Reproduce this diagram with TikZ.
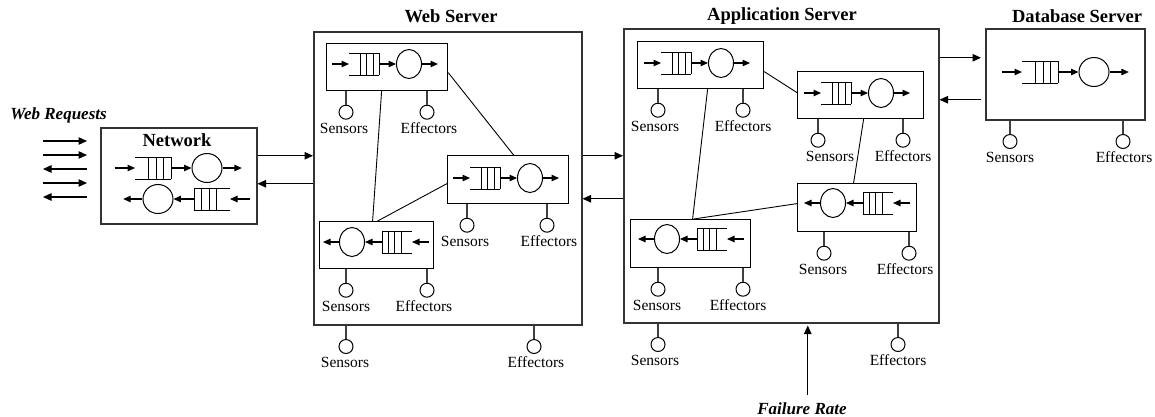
\documentclass[tikz,border=0pt]{standalone}
\usepackage{fontspec}
\setmainfont{Liberation Serif}
\usetikzlibrary{arrows.meta,calc,shapes.geometric}

\tikzset{
  server/.style={draw=black!80, line width=1.5pt, inner sep=0, anchor=north west},
  stbox/.style={draw, line width=1.2pt, inner sep=0, anchor=north west},
  qline/.style={line width=1pt},
  srvc/.style={draw, ellipse, line width=1pt, minimum height=29pt, inner sep=0},
  arr/.style={line width=1.2pt, -{Triangle[length=8.5pt,width=7.5pt]}},
  qarr/.style={line width=1.1pt, -{Triangle[length=7.5pt,width=6.5pt]}},
  conn/.style={line width=0.9pt},
  pinline/.style={draw=black!75, line width=1.4pt},
  pinc/.style={circle, draw, line width=1pt, minimum size=14pt, inner sep=0},
  pinlbl/.style={font=\fontsize{15.5}{17}\selectfont, inner sep=0, anchor=base},
  srvtitle/.style={font=\bfseries\fontsize{18.5}{20}\selectfont, inner sep=0, anchor=base},
  notelbl/.style={font=\bfseries\itshape\fontsize{17}{19}\selectfont, inner sep=0, anchor=base},
}

% #1 name, #2 x of queue open end, #3 row y, #4 direction (1 or -1), #5 horizontal scale
\newcommand\qstation[5]{%
  \begin{scope}[shift={(#2,#3)}, xscale=#4*#5]
    \coordinate (#1-in) at (-17,0);
    \coordinate (#1-qo) at (0,0);
    \coordinate (#1-qc) at (30,0);
    \draw[qline] (0,-11) -- (30,-11) (0,11) -- (30,11);
    \foreach \v in {11,17.5,24,30} \draw[qline] (\v,-11) -- (\v,11);
    \node[srvc, minimum width=25pt*#5] (#1-s) at (60,0) {};
    \coordinate (#1-out) at (89,0);
    \draw[qarr] (#1-in) -- (#1-qo);
    \draw[qarr] (#1-qc) -- (#1-s);
    \draw[qarr] (#1-s) -- (#1-out);
  \end{scope}
}

% #1 name, #2 box node, #3 pin x, #4 label x, #5 label
\newcommand\qpin[5]{%
  \coordinate (#1-x) at (#3,0);
  \coordinate (#1-a) at (#2.south -| #1-x);
  \node[pinc] (#1-c) at ([yshift=-21pt]#1-a) {};
  \draw[pinline] (#1-a) -- (#1-c);
  \coordinate (#1-lx) at (#4,0);
  \coordinate (#1-ly) at ([yshift=-21pt]#1-c.center);
  \node[pinlbl] (#1-l) at (#1-ly -| #1-lx) {#5};
}

\begin{document}
\begin{tikzpicture}[x=1pt, y=-1pt]
\useasboundingbox (0,0) rectangle (1155,416);

% server boxes
\node[server, minimum width=156pt, minimum height=96pt] (net) at (100,127) {};
\node[server, minimum width=268pt, minimum height=293pt] (web) at (313,31) {};
\node[server, minimum width=315pt, minimum height=294pt] (app) at (623,28) {};
\node[server, minimum width=159pt, minimum height=91pt] (db) at (985,28) {};

% titles and notes
\node[srvtitle] (nett) at (177,146) {Network};
\node[srvtitle] (webt) at (451,22) {Web Server};
\node[srvtitle] (appt) at (782,20.5) {Application Server};
\node[srvtitle] (dbt) at (1077,22) {Database Server};
\node[notelbl] (wrt) at (58.5,119.5) {Web Requests};
\node[notelbl] (fr) at (802,414) {Failure Rate};

% station boxes
\node[stbox, minimum width=121pt, minimum height=47pt] (ws1) at (326,43) {};
\node[stbox, minimum width=121pt, minimum height=48pt] (ws2) at (447,155) {};
\node[stbox, minimum width=114pt, minimum height=47pt] (ws3) at (319,221) {};
\node[stbox, minimum width=126pt, minimum height=47pt] (as1) at (637,41) {};
\node[stbox, minimum width=126pt, minimum height=47pt] (as2) at (797,71) {};
\node[stbox, minimum width=119pt, minimum height=48pt] (as3) at (797,183) {};
\node[stbox, minimum width=120pt, minimum height=48pt] (as4) at (630,219) {};

% queues and servers
\qstation{netq1}{135}{168}{1}{1.2}
\qstation{netq2}{230}{199}{-1}{1.2}
\qstation{ws1q}{349}{64}{1}{1}
\qstation{ws2q}{470}{178}{1}{1}
\qstation{ws3q}{412}{242}{-1}{1}
\qstation{as1q}{661}{63}{1}{1}
\qstation{as2q}{821}{93}{1}{1}
\qstation{as3q}{893}{203}{-1}{1}
\qstation{as4q}{727}{239}{-1}{1}
\qstation{dbq}{1022}{72}{1}{1.2}

% links between stations
\draw[conn] ([xshift=-5.5pt]ws1.south) -- ([xshift=-4pt]ws3.north);
\draw[conn] ([yshift=-5.5pt]ws1.east) -- ([xshift=5.5pt]ws2.north);
\draw[conn] ([yshift=-4pt]ws2.west) -- ([xshift=1pt]ws3.north);
\draw[conn] ([yshift=-6.5pt]as1.east) -- ([yshift=2.5pt]as2.west);
\draw[conn] ([xshift=7pt]as1.south) -- ([xshift=2pt]as4.north);
\draw[conn] ([xshift=3pt]as2.south) -- ([xshift=-3.5pt]as3.north);
\draw[conn] ([yshift=4pt]as3.west) -- ([xshift=3pt]as4.north);

% arrows between servers
\coordinate (nw1) at ([yshift=20pt]net.east);
\draw[arr] (nw1) -- (nw1 -| web.west);
\coordinate (nw2) at ([yshift=-8pt]net.east);
\draw[arr] (nw2 -| web.west) -- (nw2);
\coordinate (wa1) at ([yshift=22.5pt]web.east);
\draw[arr] (wa1) -- (wa1 -| app.west);
\coordinate (wa2) at ([yshift=-20.5pt]web.east);
\draw[arr] (wa2 -| app.west) -- (wa2);
\coordinate (ad1) at ([yshift=16.5pt]db.west);
\draw[arr, shorten >=4pt] (ad1 -| app.east) -- (ad1);
\coordinate (ad2) at ([yshift=-25.5pt]db.west);
\draw[arr, shorten <=4pt] (ad2) -- (ad2 -| app.east);

% failure rate arrow
\coordinate (frt) at ([xshift=26.5pt]app.south);
\draw[arr, shorten <=7pt, shorten >=2pt] (frt |- fr.north) -- (frt);

% web requests arrows
\coordinate (wr1a) at (43,141); \coordinate (wr1b) at (87,141);
\coordinate (wr2a) at (43,155); \coordinate (wr2b) at (87,155);
\coordinate (wr3a) at (43,169); \coordinate (wr3b) at (87,169);
\coordinate (wr4a) at (43,183); \coordinate (wr4b) at (87,183);
\coordinate (wr5a) at (43,197); \coordinate (wr5b) at (87,197);
\draw[arr] (wr1a) -- (wr1b);
\draw[arr] (wr2a) -- (wr2b);
\draw[arr] (wr3b) -- (wr3a);
\draw[arr] (wr4a) -- (wr4b);
\draw[arr] (wr5b) -- (wr5a);

% sensors and effectors
\qpin{ws1s}{ws1}{346}{344}{Sensors}
\qpin{ws1e}{ws1}{427}{429}{Effectors}
\qpin{ws2s}{ws2}{467}{465}{Sensors}
\qpin{ws2e}{ws2}{547}{549}{Effectors}
\qpin{ws3s}{ws3}{346}{346}{Sensors}
\qpin{ws3e}{ws3}{427}{424}{Effectors}
\qpin{webs}{web}{346}{345}{Sensors}
\qpin{webe}{web}{534}{536}{Effectors}
\qpin{as1s}{as1}{658}{655}{Sensors}
\qpin{as1e}{as1}{743}{743}{Effectors}
\qpin{as2s}{as2}{818}{830}{Sensors}
\qpin{as2e}{as2}{903}{903}{Effectors}
\qpin{as3s}{as3}{824}{823}{Sensors}
\qpin{as3e}{as3}{909}{905}{Effectors}
\qpin{as4s}{as4}{658}{657}{Sensors}
\qpin{as4e}{as4}{743}{738}{Effectors}
\qpin{apps}{app}{658}{655}{Sensors}
\qpin{appe}{app}{898}{898}{Effectors}
\qpin{dbs}{db}{1010}{1010}{Sensors}
\qpin{dbe}{db}{1123}{1124}{Effectors}
\end{tikzpicture}
\end{document}
